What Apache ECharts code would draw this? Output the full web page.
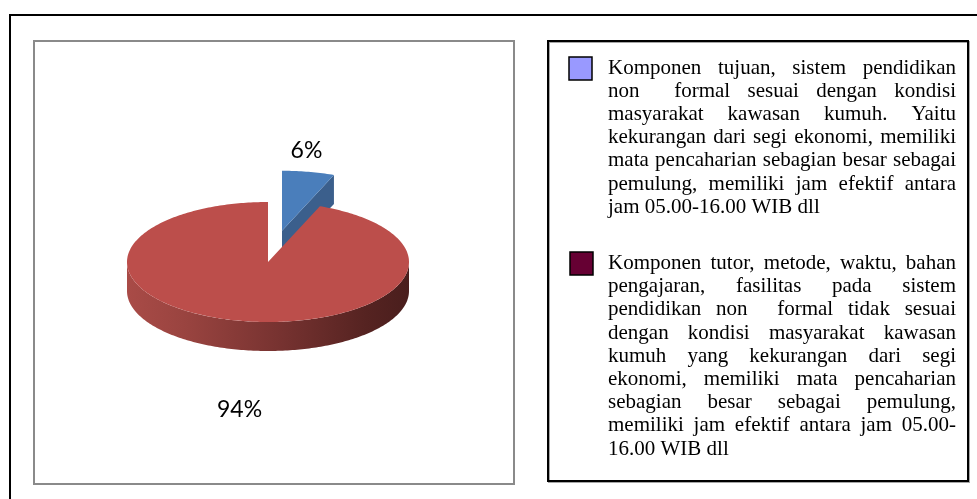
<!DOCTYPE html>
<html>
<head>
<meta charset="utf-8">
<script src="https://cdn.jsdelivr.net/npm/echarts@6/dist/echarts.min.js"></script>
<style>
  html, body { margin: 0; padding: 0; background: #fff; }
  #chart { width: 977px; height: 499px; }
</style>
</head>
<body>
<div id="chart"></div>
<script>
  // == data ==
  const sliceNames = ['Komponen tujuan sesuai', 'Komponen tutor tidak sesuai'];
  const sliceValues = [6, 94];
  const sliceColors = ['#4a7ebb', '#bc4e4b'];
  const cutColors = ['#3b5f8c', '#7a3330'];
  const legendColors = ['#9999ff', '#660033'];
  // legend paragraphs, one entry per printed line
  const legendLines1 = [
    'Komponen tujuan, sistem pendidikan',
    'non  formal sesuai dengan kondisi',
    'masyarakat kawasan kumuh. Yaitu',
    'kekurangan dari segi ekonomi, memiliki',
    'mata pencaharian sebagian besar sebagai',
    'pemulung, memiliki jam efektif antara',
    'jam 05.00-16.00 WIB dll'
  ];
  const legendLines2 = [
    'Komponen tutor, metode, waktu, bahan',
    'pengajaran, fasilitas pada sistem',
    'pendidikan non  formal tidak sesuai',
    'dengan kondisi masyarakat kawasan',
    'kumuh yang kekurangan dari segi',
    'ekonomi, memiliki mata pencaharian',
    'sebagian besar sebagai pemulung,',
    'memiliki jam efektif antara jam 05.00-',
    '16.00 WIB dll'
  ];

  // == pie geometry (pseudo 3d) ==
  const CX = 268, CY = 262, RX = 141, RY = 60, DEPTH = 29;
  const EXPLODE = [0.53, 0];
  const LABEL_FONT = '23px Lato';

  const total = sliceValues.reduce((a, b) => a + b, 0);

  function renderSlice(params, api) {
    const i = params.dataIndex;
    let start = 0;
    for (let k = 0; k < i; k++) start += sliceValues[k] / total * 360;
    const end = start + api.value(0) / total * 360;
    const mid = (start + end) / 2;
    const mr = mid * Math.PI / 180;
    const ex = EXPLODE[i];
    const cx = CX + ex * RX * Math.sin(mr);
    const cy = CY - ex * RY * Math.cos(mr);
    const pt = (a, dy) => {
      const t = a * Math.PI / 180;
      return [cx + RX * Math.sin(t), cy - RY * Math.cos(t) + (dy || 0)];
    };
    const arc = (a0, a1, dy) => {
      const pts = [];
      const n = Math.max(2, Math.ceil(a1 - a0));
      for (let k = 0; k <= n; k++) pts.push(pt(a0 + (a1 - a0) * k / n, dy));
      return pts;
    };
    const base = i * 10;
    const children = [];

    // outer wall, only the front half is seen
    const s0 = Math.max(start, 90), s1 = Math.min(end, 270);
    if (s1 > s0) {
      children.push({
        type: 'polygon', z2: base + 2,
        shape: { points: arc(s0, s1, 0).concat(arc(s0, s1, DEPTH).reverse()) },
        style: {
          fill: new echarts.graphic.LinearGradient(0, 0, 1, 0, [
            { offset: 0, color: '#a94b47' },
            { offset: 0.2, color: '#9a4440' },
            { offset: 0.55, color: '#763230' },
            { offset: 0.85, color: '#552321' },
            { offset: 1, color: '#4a1e1d' }
          ])
        }
      });
    }
    // cut faces
    const sr = start * Math.PI / 180, er = end * Math.PI / 180;
    const cutFace = (a) => {
      const p = pt(a, 0);
      return [[cx, cy], p, [p[0], p[1] + DEPTH], [cx, cy + DEPTH]];
    };
    if (-Math.sin(sr) > 0.01) {
      children.push({ type: 'polygon', z2: base + 1, shape: { points: cutFace(start) }, style: { fill: cutColors[i] } });
    }
    if (Math.sin(er) > 0.01) {
      children.push({ type: 'polygon', z2: base + 1, shape: { points: cutFace(end) }, style: { fill: cutColors[i] } });
    }
    // top face
    children.push({
      type: 'polygon', z2: base + 3,
      shape: { points: [[cx, cy]].concat(arc(start, end, 0)) },
      style: { fill: sliceColors[i] }
    });
    // label
    const edge = pt(mid, 0);
    const top = Math.cos(mr) > 0;
    children.push({
      type: 'text', z2: 50,
      style: {
        text: Math.round(api.value(0) / total * 100) + '%',
        x: edge[0] - 2,
        y: top ? edge[1] - 21 : edge[1] + DEPTH + 60,
        align: 'center', verticalAlign: 'middle',
        font: LABEL_FONT, fill: '#000'
      }
    });
    return { type: 'group', children: children };
  }

  // == legend text, justified like the source ==
  const LEG_SIZE = 21;
  const LEG_FONT = LEG_SIZE + 'px "Liberation Serif"';
  const TEXT_X0 = 608, TEXT_X1 = 956;
  const LINE_H = 23.2;
  const measure = document.createElement('canvas').getContext('2d');
  measure.font = LEG_FONT;

  function paragraph(lines, baseline0) {
    const out = [];
    const spaceW = measure.measureText(' ').width;
    lines.forEach((line, li) => {
      const words = line.split(' ');
      const ws = words.map((w) => measure.measureText(w).width);
      const sum = ws.reduce((a, b) => a + b, 0);
      const last = li === lines.length - 1;
      const gap = last || words.length < 2 ? spaceW : (TEXT_X1 - TEXT_X0 - sum) / (words.length - 1);
      let x = TEXT_X0;
      const y = baseline0 + li * LINE_H - 7;
      words.forEach((w, k) => {
        if (w) {
          out.push({
            type: 'text', x: x, y: y,
            style: { text: w, font: LEG_FONT, fill: '#000', verticalAlign: 'middle' }
          });
        }
        x += ws[k] + gap;
      });
    });
    return out;
  }

  const graphics = [
    // outer frame
    { type: 'rect', shape: { x: 10, y: 15, width: 1000, height: 500 }, style: { fill: null, stroke: '#000', lineWidth: 2 } },
    // plot area frame
    { type: 'rect', shape: { x: 34, y: 41, width: 480, height: 443 }, style: { fill: null, stroke: '#8a8a8a', lineWidth: 2 } },
    // legend frame
    {
      type: 'rect', shape: { x: 548, y: 41, width: 420, height: 440 },
      style: { fill: '#fff', stroke: '#000', lineWidth: 2, shadowColor: 'rgba(0,0,0,0.35)', shadowOffsetX: 1, shadowOffsetY: 1 }
    },
    { type: 'rect', shape: { x: 569, y: 57, width: 23, height: 23 }, style: { fill: legendColors[0], stroke: '#000', lineWidth: 1.5 } },
    { type: 'rect', shape: { x: 570, y: 252, width: 23, height: 23 }, style: { fill: legendColors[1], stroke: '#000', lineWidth: 1.5 } }
  ].concat(paragraph(legendLines1, 75), paragraph(legendLines2, 270.5));

  const myChart = echarts.init(document.getElementById('chart'));
  const option = {
    backgroundColor: '#fff',
    animation: false,
    graphic: { elements: graphics },
    series: [
      {
        type: 'custom',
        coordinateSystem: 'none',
        renderItem: renderSlice,
        data: sliceValues.map((v, i) => ({ name: sliceNames[i], value: [v] }))
      }
    ]
  };
  myChart.setOption(option);
</script>
</body>
</html>
